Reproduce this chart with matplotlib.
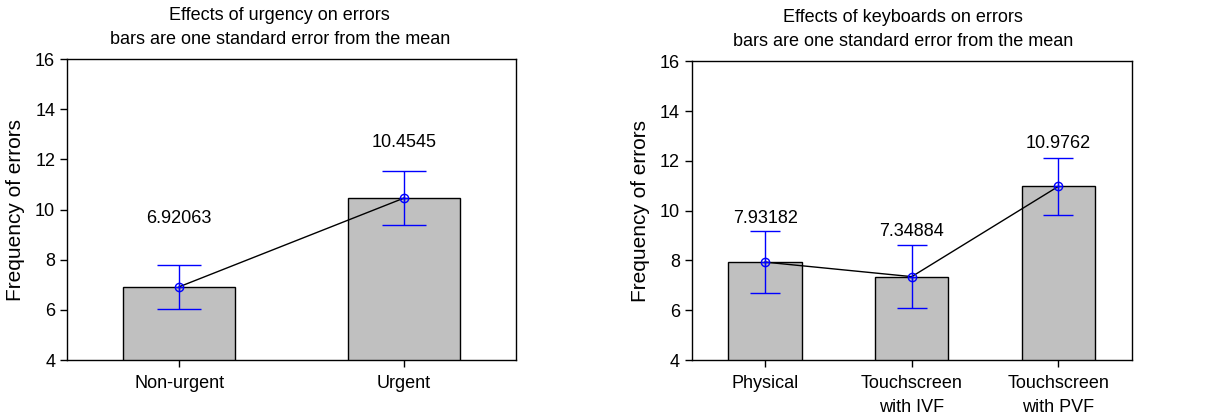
import matplotlib
matplotlib.use("Agg")
import matplotlib.pyplot as plt
import numpy as np

plt.rcParams['font.family'] = ['Liberation Sans', 'DejaVu Sans']

# ---- data
urg_cats = ["Non-urgent", "Urgent"]
urg_means = [6.92063, 10.4545]
urg_se = [0.88, 1.08]
urg_lbl_y = [9.65, 12.68]

kb_cats = ["Physical", "Touchscreen\nwith IVF", "Touchscreen\nwith PVF"]
kb_means = [7.93182, 7.34884, 10.9762]
kb_se = [1.25, 1.27, 1.14]
kb_lbl_y = [9.70, 9.18, 12.71]

titles = ["Effects of urgency on errors\nbars are one standard error from the mean",
          "Effects of keyboards on errors\nbars are one standard error from the mean"]
yticks = [4, 6, 8, 10, 12, 14, 16]

fig = plt.figure(figsize=(12.2, 4.19), dpi=100)
ax1 = fig.add_axes([0.0549, 0.1408, 0.368, 0.718])
ax2 = fig.add_axes([0.567, 0.1408, 0.3607, 0.713])


def panel(ax, cats, means, se, lbl_y, title, capsize, tx):
    x = np.arange(len(cats))
    ax.bar(x, means, width=0.5, color='#c0c0c0', edgecolor='black', linewidth=1, zorder=2)
    ax.errorbar(x, means, yerr=se, fmt='none', ecolor='#0000ff', elinewidth=1,
                capsize=capsize, capthick=1, zorder=3)
    ax.plot(x, means, color='black', lw=1, zorder=4)
    ax.plot(x, means, 'o', mfc='none', mec='#0000ff', ms=6, mew=1, zorder=5)
    ax.plot(x, means, '+', color='#0000ff', ms=6, mew=1, zorder=5)
    for xi, m, ly in zip(x, means, lbl_y):
        ax.text(xi, ly, f"{m:g}", ha='center', va='center', fontsize=13)
    ax.set_xlim(-0.5, len(cats) - 0.5)
    ax.set_ylim(4, 16)
    ax.set_yticks(yticks)
    ax.set_xticks(x)
    ax.set_xticklabels(cats, fontsize=13, linespacing=1.55)
    ax.tick_params(axis='y', labelsize=13, direction='out', length=5, width=1)
    ax.tick_params(axis='x', direction='out', length=5, width=1, pad=6)
    ax.set_ylabel("Frequency of errors", fontsize=15)
    ax.set_title(title, fontsize=13, x=tx, pad=11, linespacing=1.55)
    for s in ax.spines.values():
        s.set_linewidth(1)


panel(ax1, urg_cats, urg_means, urg_se, urg_lbl_y, titles[0], 15.5, 0.474)
panel(ax2, kb_cats, kb_means, kb_se, kb_lbl_y, titles[1], 10.5, 0.48)
ax1.yaxis.set_label_coords(-0.093, 0.5)
ax2.yaxis.set_label_coords(-0.095, 0.5)

fig.savefig("out.png", dpi=100)
